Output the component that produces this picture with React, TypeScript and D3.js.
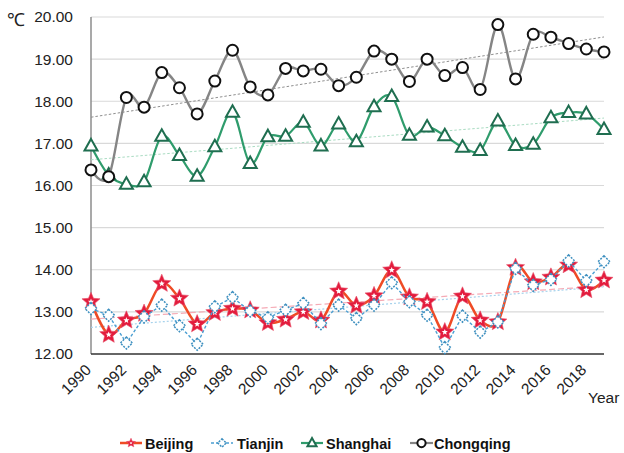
import React from 'react';
import * as d3 from 'd3';

const years = [1990,1991,1992,1993,1994,1995,1996,1997,1998,1999,2000,2001,2002,2003,2004,2005,2006,2007,2008,2009,2010,2011,2012,2013,2014,2015,2016,2017,2018,2019];
const tickYears = [1990,1992,1994,1996,1998,2000,2002,2004,2006,2008,2010,2012,2014,2016,2018];
const yTicks = [12,13,14,15,16,17,18,19,20];

const beijing = [13.24,12.46,12.80,12.96,13.67,13.32,12.71,12.98,13.08,13.04,12.74,12.82,13.00,12.80,13.49,13.15,13.38,13.99,13.35,13.24,12.52,13.37,12.80,12.76,14.05,13.71,13.82,14.11,13.52,13.75];
const tianjin = [13.08,12.92,12.26,12.88,13.16,12.67,12.23,13.12,13.34,13.02,12.86,13.04,13.20,12.72,13.16,12.84,13.16,13.69,13.24,12.92,12.15,12.90,12.52,12.76,14.03,13.63,13.77,14.21,13.74,14.19];
const shanghai = [16.94,16.25,16.03,16.09,17.17,16.71,16.22,16.92,17.74,16.52,17.16,17.17,17.50,16.94,17.46,17.04,17.87,18.11,17.19,17.39,17.18,16.91,16.83,17.53,16.95,16.98,17.61,17.73,17.70,17.33];
const chongqing = [16.37,16.21,18.09,17.86,18.68,18.32,17.70,18.48,19.21,18.34,18.15,18.78,18.72,18.76,18.37,18.57,19.19,19.00,18.47,19.00,18.61,18.80,18.28,19.82,18.53,19.59,19.52,19.37,19.24,19.17];

const L = 91, R = 604, T = 17, B = 354;

const x = d3.scalePoint<number>().domain(years).range([L, R]);
const y = d3.scaleLinear().domain([12, 20]).range([B, T]);

function starPath(ro: number, ri: number) {
  const pts: string[] = [];
  for (let i = 0; i < 10; i++) {
    const r = i % 2 === 0 ? ro : ri;
    const a = -Math.PI / 2 + (i * Math.PI) / 5;
    pts.push(`${(r * Math.cos(a)).toFixed(2)},${(r * Math.sin(a)).toFixed(2)}`);
  }
  return 'M' + pts.join('L') + 'Z';
}

function trend(vals: number[]) {
  const n = vals.length;
  const xs = vals.map((_, i) => i);
  const mx = d3.mean(xs)!, my = d3.mean(vals)!;
  let num = 0, den = 0;
  xs.forEach((xi, i) => { num += (xi - mx) * (vals[i] - my); den += (xi - mx) ** 2; });
  const b = num / den, a = my - b * mx;
  return [[x(years[0])!, y(a)], [x(years[n - 1])!, y(a + b * (n - 1))]];
}

const Star = ({ cx, cy, s = 1 }: { cx: number; cy: number; s?: number }) => (
  <g transform={`translate(${cx},${cy})`}>
    <path d={starPath(9.5 * s, 4.3 * s)} fill="#e31c3d" stroke="#e8506a" strokeWidth={0.6} />
    <path d={starPath(3.2 * s, 1.4 * s)} fill="#fff" />
  </g>
);
const Diamond = ({ cx, cy, s = 1 }: { cx: number; cy: number; s?: number }) => (
  <path d={`M${cx},${cy - 6 * s}L${cx + 6 * s},${cy}L${cx},${cy + 6 * s}L${cx - 6 * s},${cy}Z`} fill="#fff" stroke="#3d8fbf" strokeWidth={1.5} strokeDasharray="2,1.2" />
);
const Tri = ({ cx, cy, s = 1 }: { cx: number; cy: number; s?: number }) => (
  <path d={`M${cx},${cy - 7 * s}L${cx + 6.5 * s},${cy + 4.5 * s}L${cx - 6.5 * s},${cy + 4.5 * s}Z`} fill="#fff" stroke="#1f6e50" strokeWidth={2} />
);
const Circ = ({ cx, cy, s = 1 }: { cx: number; cy: number; s?: number }) => (
  <circle cx={cx} cy={cy} r={5.5 * s} fill="#fff" stroke="#111" strokeWidth={2} />
);

export default function App() {
  const smooth = d3.line<number>().x((_, i) => x(years[i])!).y(v => y(v)).curve(d3.curveCardinal.tension(0));
  const straight = d3.line<number>().x((_, i) => x(years[i])!).y(v => y(v));
  const tl = (vals: number[]) => { const p = trend(vals); return `M${p[0][0]},${p[0][1]}L${p[1][0]},${p[1][1]}`; };
  const font = 'Liberation Sans, Arial, sans-serif';
  return (
    <svg width={624} height={453} style={{ position: 'absolute', left: 0, top: 0, background: '#fff' }} fontFamily={font}>
      {yTicks.filter(t => t > 12).map(t => (
        <line key={t} x1={L} x2={R} y1={y(t)} y2={y(t)} stroke="#d9d9d9" strokeWidth={1.2} />
      ))}
      {yTicks.map(t => (
        <text key={t} x={73} y={y(t)} dy="0.35em" textAnchor="end" fontSize={15.5} fill="#222">{t.toFixed(2)}</text>
      ))}
      <text x={7} y={26} fontSize={18} fill="#222">℃</text>
      <line x1={L} x2={L} y1={T} y2={B} stroke="#8c8c8c" strokeWidth={1.5} />
      <line x1={L} x2={R} y1={B} y2={B} stroke="#333" strokeWidth={1.5} />
      {tickYears.map(t => (
        <text key={t} transform={`translate(${x(t)! + 1},${371}) rotate(-45)`} textAnchor="end" fontSize={15.5} fill="#222">{t}</text>
      ))}
      <text x={588} y={403} fontSize={15.5} fill="#222">Year</text>

      {/* trendlines */}
      <path d={tl(chongqing)} stroke="#8f8f8f" strokeWidth={1} strokeDasharray="2.5,2" fill="none" />
      <path d={tl(shanghai)} stroke="#a9dcc2" strokeWidth={1} strokeDasharray="2.5,2" fill="none" />
      <path d={tl(beijing)} stroke="#f5aab5" strokeWidth={1.2} strokeDasharray="6,3" fill="none" />
      <path d={tl(tianjin)} stroke="#a6d2ec" strokeWidth={1.2} strokeDasharray="2,2" fill="none" />

      {/* Beijing */}
      <path d={smooth(beijing)!} stroke="#ef4b25" strokeWidth={2.5} fill="none" />
      {beijing.map((v, i) => <Star key={i} cx={x(years[i])!} cy={y(v)} />)}
      {/* Tianjin */}
      <path d={straight(tianjin)!} stroke="#4a9ed2" strokeWidth={1.4} strokeDasharray="3,2" fill="none" />
      {tianjin.map((v, i) => <Diamond key={i} cx={x(years[i])!} cy={y(v)} />)}
      {/* Shanghai */}
      <path d={smooth(shanghai)!} stroke="#2f9c6c" strokeWidth={2.2} fill="none" />
      {shanghai.map((v, i) => <Tri key={i} cx={x(years[i])!} cy={y(v)} />)}
      {/* Chongqing */}
      <path d={smooth(chongqing)!} stroke="#858585" strokeWidth={2.4} fill="none" />
      {chongqing.map((v, i) => <Circ key={i} cx={x(years[i])!} cy={y(v)} />)}

      {/* legend */}
      <g fontSize={14.5} fontWeight="bold" fill="#111">
        <line x1={120} x2={142} y1={443} y2={443} stroke="#ef4b25" strokeWidth={2.5} />
        <Star cx={131} cy={443} s={0.5} />
        <text x={145} y={449}>Beijing</text>
        <line x1={211} x2={233} y1={443} y2={443} stroke="#4a9ed2" strokeWidth={1.4} strokeDasharray="3,2" />
        <Diamond cx={222} cy={443} s={0.7} />
        <text x={237} y={449}>Tianjin</text>
        <line x1={301} x2={323} y1={443} y2={443} stroke="#2f9c6c" strokeWidth={2.2} />
        <Tri cx={312} cy={443} s={0.7} />
        <text x={326} y={449}>Shanghai</text>
        <line x1={410} x2={433} y1={443} y2={443} stroke="#858585" strokeWidth={2.2} />
        <Circ cx={421.5} cy={443} s={0.75} />
        <text x={434} y={449}>Chongqing</text>
      </g>
    </svg>
  );
}
